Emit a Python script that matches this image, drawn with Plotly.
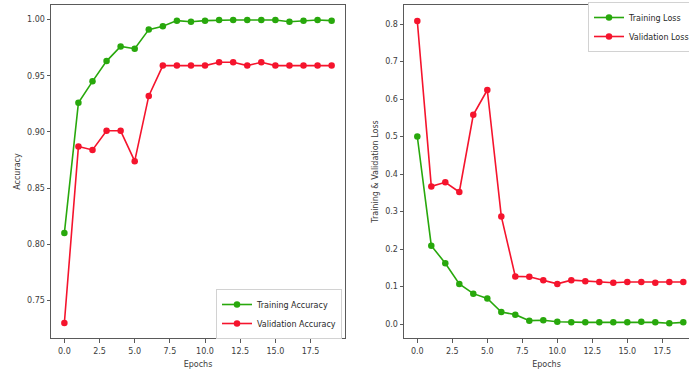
import plotly.graph_objects as go

epochs = list(range(20))
train_acc = [0.810, 0.926, 0.945, 0.963, 0.976, 0.974, 0.991, 0.994, 0.999, 0.998,
             0.999, 0.9995, 0.9995, 0.9995, 0.9995, 0.9995, 0.998, 0.999, 0.9995, 0.999]
val_acc = [0.730, 0.887, 0.884, 0.901, 0.901, 0.874, 0.932, 0.959, 0.959, 0.959,
           0.959, 0.962, 0.962, 0.959, 0.962, 0.959, 0.959, 0.959, 0.959, 0.959]
train_loss = [0.500, 0.209, 0.162, 0.107, 0.081, 0.068, 0.032, 0.025, 0.009, 0.010,
              0.006, 0.0045, 0.0045, 0.0045, 0.0045, 0.0045, 0.006, 0.0045, 0.002, 0.0045]
val_loss = [0.808, 0.367, 0.378, 0.352, 0.558, 0.624, 0.287, 0.127, 0.126, 0.117,
            0.107, 0.117, 0.114, 0.112, 0.110, 0.112, 0.112, 0.110, 0.112, 0.112]

acc_ticks = [0.75, 0.80, 0.85, 0.90, 0.95, 1.00]
loss_ticks = [0.0, 0.1, 0.2, 0.3, 0.4, 0.5, 0.6, 0.7, 0.8]
x_ticks = [0, 2.5, 5, 7.5, 10, 12.5, 15, 17.5]

GREEN = "rgb(40,168,12)"
RED = "rgb(245,20,45)"
FONT = "DejaVu Sans"

fig = go.Figure()

def add(x, y, name, color, xa, ya, legend):
    fig.add_trace(go.Scatter(
        x=x, y=y, name=name, mode="lines+markers",
        line=dict(color=color, width=1.6),
        marker=dict(color=color, size=6.5),
        xaxis=xa, yaxis=ya, legend=legend,
    ))

add(epochs, train_acc, "Training Accuracy", GREEN, "x", "y", "legend")
add(epochs, val_acc, "Validation Accuracy", RED, "x", "y", "legend")
add(epochs, train_loss, "Training Loss", GREEN, "x2", "y2", "legend2")
add(epochs, val_loss, "Validation Loss", RED, "x2", "y2", "legend2")

W, H = 689, 371
axis_common = dict(
    showgrid=False, zeroline=False, showline=True, linecolor="rgb(90,90,90)",
    linewidth=1, ticks="outside", ticklen=3.5, tickcolor="rgb(90,90,90)",
    tickfont=dict(family=FONT, size=8, color="rgb(60,60,60)"),
)
title_font = dict(family=FONT, size=8, color="rgb(60,60,60)")

y_dom = [1 - 338 / H, 1 - 5 / H]

fig.update_layout(
    width=W, height=H,
    margin=dict(l=0, r=0, t=0, b=0, autoexpand=False),
    paper_bgcolor="white", plot_bgcolor="white",
    xaxis=dict(**axis_common, domain=[51 / W, 345 / W], range=[-0.95, 19.95],
               tickvals=x_ticks, tickformat=".1f", mirror=True, anchor="y",
               ticklabelstandoff=2,
               title=dict(text="Epochs", font=title_font, standoff=6)),
    yaxis=dict(**axis_common, domain=y_dom, range=[0.7167, 1.0129],
               tickvals=acc_ticks, tickformat=".2f", mirror=True, anchor="x",
               title=dict(text="Accuracy", font=title_font, standoff=5)),
    xaxis2=dict(**axis_common, domain=[404 / W, 1.0], range=[-0.95, -0.95 + (689 - 404) / 14.0],
                tickvals=x_ticks, tickformat=".1f", mirror=True, anchor="y2",
                ticklabelstandoff=2,
                title=dict(text="Epochs", font=title_font, standoff=6)),
    yaxis2=dict(**axis_common, domain=y_dom, range=[-0.0373, 0.8507],
                tickvals=loss_ticks, tickformat=".1f", mirror=False, anchor="x2",
                title=dict(text="Training & Validation Loss", font=title_font, standoff=5)),
    legend=dict(x=216 / W, y=1 - 289 / H, xanchor="left", yanchor="top",
                bgcolor="white", bordercolor="rgb(210,210,210)", borderwidth=1,
                font=dict(family=FONT, size=8, color="rgb(40,40,40)"),
                itemwidth=30, tracegroupgap=0),
    legend2=dict(x=588 / W, y=1 - 2 / H, xanchor="left", yanchor="top",
                 bgcolor="white", bordercolor="rgb(210,210,210)", borderwidth=1,
                 font=dict(family=FONT, size=8, color="rgb(40,40,40)"),
                 itemwidth=30, tracegroupgap=0),
    showlegend=True,
)

fig.write_html("out.html", config={"displayModeBar": False},
               post_script="document.body.style.margin='0';")
